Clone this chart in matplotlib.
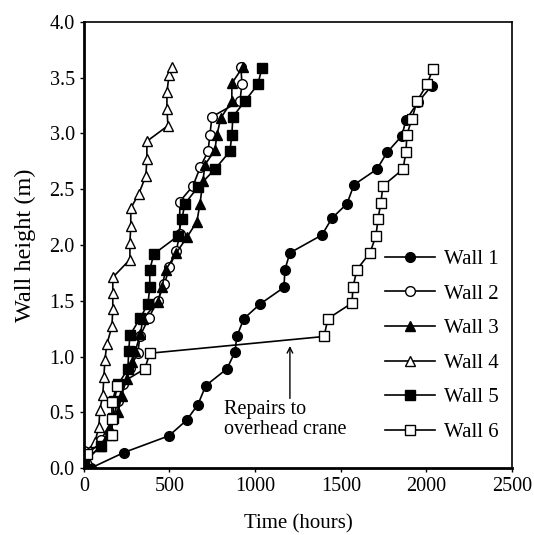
import numpy as np
import matplotlib.pyplot as plt

plt.rcParams['font.family'] = ['Liberation Serif', 'DejaVu Serif']

# Construction progress of each wall: time (hours) vs. wall height (m)
wall1_t = [40, 234, 497, 600, 666, 712, 835, 882, 893, 934, 1028, 1168, 1174, 1203,
           1390, 1448, 1536, 1577, 1711, 1770, 1857, 1880, 1950, 2032]
wall1_h = [0.0, 0.14, 0.29, 0.43, 0.57, 0.74, 0.89, 1.04, 1.18, 1.34, 1.47, 1.62, 1.78, 1.93,
           2.09, 2.24, 2.37, 2.54, 2.68, 2.83, 2.98, 3.12, 3.28, 3.43]

wall2_t = [0, 100, 170, 200, 230, 270, 315, 327, 380, 430, 470, 500, 540, 560,
           560, 637, 680, 725, 736, 748, 911, 923, 917]
wall2_h = [0.15, 0.25, 0.45, 0.6, 0.75, 0.9, 1.03, 1.18, 1.35, 1.5, 1.65, 1.8, 1.95, 2.1,
           2.39, 2.53, 2.7, 2.84, 2.99, 3.15, 3.29, 3.44, 3.6]

wall3_t = [0, 100, 150, 200, 220, 250, 280, 300, 330, 345, 432, 455, 479, 540,
           602, 660, 678, 695, 707, 765, 777, 800, 864, 864, 930]
wall3_h = [0.05, 0.2, 0.35, 0.5, 0.65, 0.8, 0.95, 1.05, 1.2, 1.34, 1.49, 1.62, 1.78, 1.93,
           2.07, 2.21, 2.37, 2.57, 2.72, 2.85, 2.99, 3.14, 3.29, 3.45, 3.6]

wall4_t = [20, 64, 88, 93, 111, 117, 123, 134, 164, 169, 169, 169, 269, 269,
           274, 274, 321, 362, 368, 368, 491, 485, 485, 497, 514]
wall4_h = [0.08, 0.23, 0.37, 0.52, 0.66, 0.82, 0.97, 1.11, 1.27, 1.43, 1.57, 1.71, 1.87, 2.02,
           2.17, 2.33, 2.46, 2.62, 2.77, 2.93, 3.07, 3.22, 3.37, 3.52, 3.6]

wall5_t = [0, 100, 160, 170, 175, 200, 257, 262, 269, 330, 374, 385, 385, 409,
           549, 572, 590, 666, 765, 853, 864, 870, 940, 1016, 1040]
wall5_h = [0.05, 0.2, 0.3, 0.45, 0.6, 0.75, 0.89, 1.05, 1.19, 1.35, 1.47, 1.62, 1.78, 1.92,
           2.08, 2.23, 2.37, 2.52, 2.68, 2.84, 2.99, 3.15, 3.29, 3.44, 3.59]

wall6_t = [18, 164, 164, 164, 193, 356, 385, 1402, 1425, 1565, 1571, 1594, 1670,
           1705, 1717, 1734, 1746, 1863, 1880, 1886, 1915, 1945, 2003, 2038]
wall6_h = [0.13, 0.3, 0.44, 0.59, 0.74, 0.89, 1.03, 1.18, 1.34, 1.48, 1.62, 1.78, 1.93,
           2.08, 2.23, 2.38, 2.53, 2.68, 2.83, 2.99, 3.13, 3.29, 3.44, 3.58]

walls = [
    (wall1_t, wall1_h, 'o', 'k', 'Wall 1'),
    (wall2_t, wall2_h, 'o', 'w', 'Wall 2'),
    (wall3_t, wall3_h, '^', 'k', 'Wall 3'),
    (wall4_t, wall4_h, '^', 'w', 'Wall 4'),
    (wall5_t, wall5_h, 's', 'k', 'Wall 5'),
    (wall6_t, wall6_h, 's', 'w', 'Wall 6'),
]

fig = plt.figure(figsize=(5.34, 5.35), dpi=100)
ax = fig.add_axes([0.157, 0.125, 0.802, 0.834])

for t, h, m, fc, lab in walls:
    ax.plot(t, h, marker=m, mfc=fc, mec='k', color='k', lw=1.2, ms=7,
            mew=1.0, label=lab)

# note about the crane repair delay
ax.annotate('', xy=(1203, 1.12), xytext=(1203, 0.6),
            arrowprops=dict(arrowstyle='->', color='k', lw=1.0))
ax.text(820, 0.61, 'Repairs to\noverhead crane', fontsize=14.5, va='top',
        ha='left', linespacing=1.05)

ax.set_xlim(0, 2500)
ax.set_ylim(0, 4.0)
ax.set_xticks(np.arange(0, 2501, 500))
ax.set_yticks(np.arange(0, 4.01, 0.5))
ax.set_yticklabels(['%.1f' % v for v in np.arange(0, 4.01, 0.5)])
ax.tick_params(labelsize=14.5, direction='out', length=3, width=1)
ax.set_xlabel('Time (hours)', fontsize=15, labelpad=13)
ax.set_ylabel('Wall height (m)', fontsize=17.5, labelpad=10)
for s in ['left', 'bottom']:
    ax.spines[s].set_linewidth(2)
for s in ['top', 'right']:
    ax.spines[s].set_linewidth(1.2)

ax.legend(loc='upper left', bbox_to_anchor=(0.703, 0.49), frameon=False,
          fontsize=15, handlelength=2.4, labelspacing=0.72, handletextpad=0.45,
          borderpad=0, borderaxespad=0)

fig.savefig('out.png', dpi=100)
